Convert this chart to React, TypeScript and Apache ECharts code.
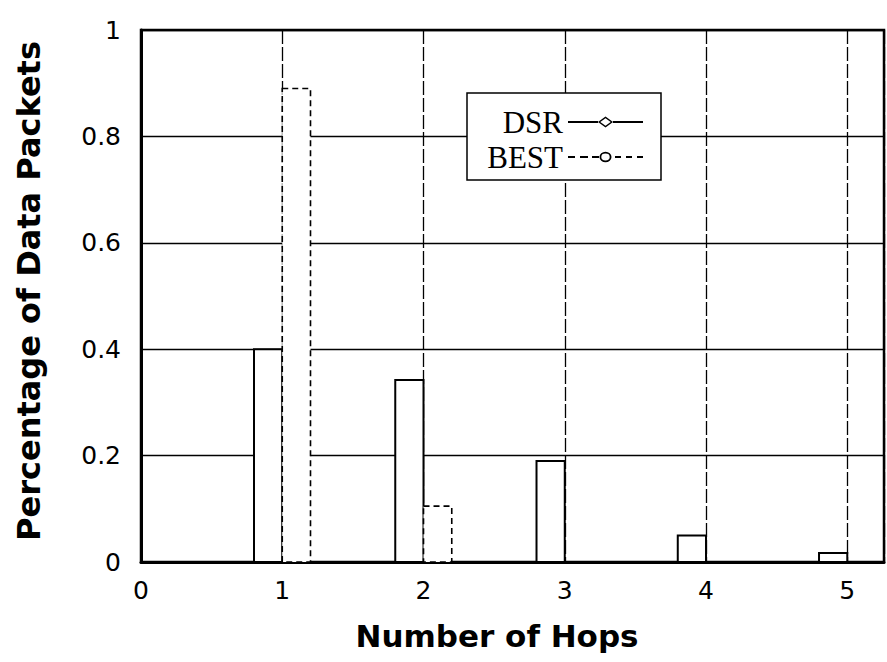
import React, { useEffect, useRef } from "react";
import * as echarts from "echarts";

const hops = [1, 2, 3, 4, 5];
const dsr = [0.4, 0.342, 0.19, 0.05, 0.017];
const best = [0.89, 0.105, 0, 0, 0];
const yTicks = [0, 0.2, 0.4, 0.6, 0.8, 1];
const xTitle = "Number of Hops";
const yTitle = "Percentage of Data Packets";
const seriesNames = ["DSR", "BEST"];
const BAR_W = 0.2;

const DSR_ICON =
  "path://M0 6H30V8H0Z M30 7L37.5 1.5L45 7L37.5 12.5Z M32.3 7L37.5 10.7L42.7 7L37.5 3.3Z M45 6H75V8H45Z";
const BEST_ICON =
  "path://M0 6H7V8H0Z M12 6H20V8H12Z M24 6H31V8H24Z M31.5 7A6 5.2 0 1 1 43.5 7A6 5.2 0 1 1 31.5 7Z M33.3 7A4.2 3.4 0 1 0 41.7 7A4.2 3.4 0 1 0 33.3 7Z M47 6H53V8H47Z M58 6H64V8H58Z M69 6H75V8H69Z";

export default function App() {
  const ref = useRef<HTMLDivElement>(null);
  useEffect(() => {
    if (!ref.current) return;
    const chart = echarts.init(ref.current, undefined, { renderer: "svg" });
    const mkRender = (offset: number, dashed: boolean) => (params: any, api: any) => {
      const x = api.value(0);
      const y = api.value(1);
      const p1 = api.coord([x + offset, y]);
      const p2 = api.coord([x + offset + BAR_W, 0]);
      return {
        type: "rect",
        shape: { x: p1[0], y: p1[1], width: p2[0] - p1[0], height: p2[1] - p1[1] },
        style: {
          fill: "#fff",
          stroke: "#000",
          lineWidth: dashed ? 1.6 : 2,
          lineDash: dashed ? [6, 4] : null,
        },
      };
    };
    chart.setOption({
      animation: false,
      backgroundColor: "#fff",
      grid: {
        left: 141,
        top: 30,
        right: -3,
        bottom: 100,
        show: true,
        borderColor: "#000",
        borderWidth: 2.5,
        containLabel: false,
      },
      xAxis: {
        type: "value",
        min: 0,
        max: 5.26,
        interval: 1,
        axisLine: { show: true, lineStyle: { color: "#000", width: 3 } },
        axisTick: { show: false },
        axisLabel: {
          margin: 16,
          color: "#000",
          fontFamily: "DejaVu Sans",
          fontSize: 25,
          formatter: (v: number) => (Number.isInteger(v) ? String(v) : ""),
        },
        splitLine: { show: true, lineStyle: { color: "#000", width: 1.3, type: [14, 3] } },
      },
      yAxis: {
        type: "value",
        min: yTicks[0],
        max: yTicks[yTicks.length - 1],
        interval: 0.2,
        axisLine: { show: true, lineStyle: { color: "#000", width: 3 } },
        axisTick: { show: false },
        axisLabel: {
          margin: 20,
          color: "#000",
          fontFamily: "DejaVu Sans",
          fontSize: 25,
        },
        splitLine: { show: true, lineStyle: { color: "#000", width: 1.4 } },
      },
      legend: {
        show: true,
        orient: "vertical",
        align: "right",
        left: 467,
        top: 93,
        padding: [12, 18, 6, 12],
        itemGap: 1,
        itemWidth: 75,
        itemHeight: 11,
        backgroundColor: "#fff",
        borderColor: "#000",
        borderWidth: 1.5,
        borderRadius: 0,
        selectedMode: false,
        textStyle: {
          fontFamily: "Liberation Serif",
          fontSize: 31,
          color: "#000",
          width: 84,
          lineHeight: 34,
        },
        data: [
          { name: seriesNames[0], icon: DSR_ICON, itemStyle: { color: "#000", borderWidth: 0 } },
          { name: seriesNames[1], icon: BEST_ICON, itemStyle: { color: "#000", borderWidth: 0 } },
        ],
      },
      graphic: [
        {
          type: "text",
          x: 497,
          y: 636,
          style: {
            text: xTitle,
            fontFamily: "DejaVu Sans",
            fontWeight: "bold",
            fontSize: 31,
            fill: "#000",
            align: "center",
            verticalAlign: "middle",
          },
        },
        {
          type: "text",
          x: 29,
          y: 291,
          rotation: Math.PI / 2,
          style: {
            text: yTitle,
            fontFamily: "DejaVu Sans",
            fontWeight: "bold",
            fontSize: 32,
            fill: "#000",
            align: "center",
            verticalAlign: "middle",
          },
        },
      ],
      series: [
        {
          name: seriesNames[0],
          type: "custom",
          color: "#000",
          renderItem: mkRender(-BAR_W, false),
          data: hops.map((h, i) => [h, dsr[i]]),
          z: 3,
        },
        {
          name: seriesNames[1],
          type: "custom",
          color: "#000",
          renderItem: mkRender(0, true),
          data: hops.map((h, i) => [h, best[i]]),
          z: 3,
        },
      ],
    });
    return () => chart.dispose();
  }, []);
  return (
    <div
      ref={ref}
      style={{ position: "fixed", left: 0, top: 0, width: 887, height: 662, background: "#fff" }}
    />
  );
}
